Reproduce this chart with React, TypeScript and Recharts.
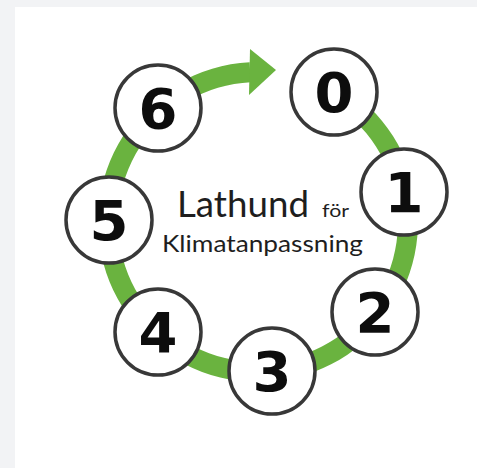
import { PieChart, Pie, Cell, ScatterChart, Scatter, XAxis, YAxis } from 'recharts'

// steps of the cycle, clockwise from the top
const steps = ['0', '1', '2', '3', '4', '5', '6']
const stepX = [334, 404, 375, 272, 158, 109, 158]
const stepY = [92, 192, 312, 371, 332, 220, 108]

// green ring: from the arrow head round to step 0, then the open gap
const ring = [
  { name: 'cykel', value: 326.7 },
  { name: 'glapp', value: 33.3 },
]

// arrow head sits where the ring ends
const arrowX = [250]
const arrowY = [72]

const titleLines = ['Lathund', 'för', 'Klimatanpassning']

const W = 477
const H = 468
const GREEN = '#6ab33f'
const TEXT_FONT = "Lato, 'Open Sans', sans-serif"

const stepData = steps.map((label, i) => ({ label, x: stepX[i], y: stepY[i] }))
const arrowData = arrowX.map((x, i) => ({ x, y: arrowY[i] }))

function StepCircle(props: any) {
  const { cx, cy, payload } = props
  return (
    <g>
      <circle cx={cx} cy={cy} r={43} fill="#fff" stroke="#383838" strokeWidth={3.5} />
      <text
        x={cx}
        y={cy + 20}
        textAnchor="middle"
        fontFamily="'DejaVu Sans', sans-serif"
        fontWeight={700}
        fontSize={56}
        fill="#0d0d0d"
      >
        {payload.label}
      </text>
    </g>
  )
}

function ArrowHead(props: any) {
  const { cx, cy } = props
  return <polygon points={`${cx},${cy - 23} ${cx - 1},${cy + 23} ${cx + 26},${cy - 2}`} fill={GREEN} />
}

export default function App() {
  return (
    <div style={{ position: 'absolute', left: 0, top: 0, width: W, height: H, background: '#f2f3f5', overflow: 'hidden' }}>
      <div style={{ position: 'absolute', left: 15, top: 7, right: 0, bottom: 0, background: '#fff' }} />
      <div style={{ position: 'absolute', left: 0, top: 0 }}>
        <PieChart width={W} height={H} margin={{ top: 0, right: 0, bottom: 0, left: 0 }}>
          <Pie
            data={ring}
            dataKey="value"
            cx={258}
            cy={222}
            innerRadius={140}
            outerRadius={160}
            startAngle={93}
            endAngle={453}
            stroke="none"
            isAnimationActive={false}
          >
            {ring.map((r, i) => (
              <Cell key={r.name} fill={i === 0 ? GREEN : 'none'} />
            ))}
          </Pie>
        </PieChart>
      </div>
      <div style={{ position: 'absolute', left: 0, top: 0 }}>
        <ScatterChart width={W} height={H} margin={{ top: 0, right: 0, bottom: 0, left: 0 }}>
          <XAxis type="number" dataKey="x" domain={[0, W]} hide />
          <YAxis type="number" dataKey="y" domain={[0, H]} reversed hide />
          <Scatter data={arrowData} shape={ArrowHead} isAnimationActive={false} />
          <Scatter data={stepData} shape={StepCircle} isAnimationActive={false} />
          <text x={177} y={217} fontFamily={TEXT_FONT} fontWeight={400} fontSize={37} fill="#1e1e1e" textLength={132} lengthAdjust="spacingAndGlyphs">
            {titleLines[0]}
          </text>
          <text x={322} y={217} fontFamily={TEXT_FONT} fontWeight={400} fontSize={18} fill="#1e1e1e" textLength={27} lengthAdjust="spacingAndGlyphs">
            {titleLines[1]}
          </text>
          <text x={162} y={252} fontFamily={TEXT_FONT} fontWeight={400} fontSize={24} fill="#1e1e1e" textLength={201} lengthAdjust="spacingAndGlyphs">
            {titleLines[2]}
          </text>
        </ScatterChart>
      </div>
    </div>
  )
}
